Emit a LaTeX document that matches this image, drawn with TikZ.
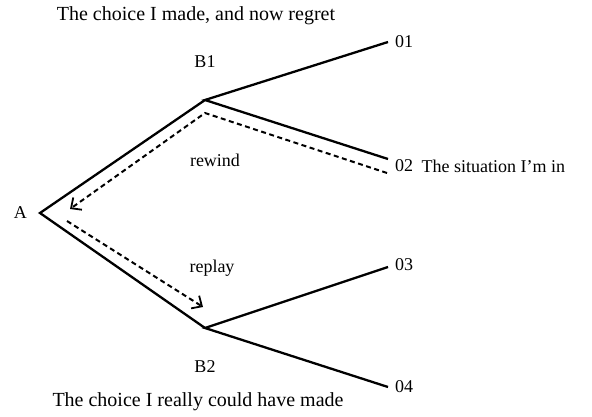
\documentclass[tikz,border=0pt]{standalone}
\usepackage{fontspec}
\setmainfont{Liberation Serif}
\usetikzlibrary{arrows.meta,positioning}

\begin{document}
\begin{tikzpicture}[x=1pt, y=-1pt, every node/.style={font=\fontsize{18}{20}\selectfont, inner sep=1pt},
  caption/.style={font=\fontsize{20}{22}\selectfont},
  branch/.style={line width=2.3pt, line join=miter},
  trace/.style={line width=2pt, dash pattern=on 5pt off 3.5pt, -{Straight Barb[length=8pt, width=15pt, line width=1.8pt]}}]
  \useasboundingbox (0,0) rectangle (592,417);
  % branch points
  \coordinate (a) at (40,213);
  \coordinate (b1) at (205,100);
  \coordinate (b2) at (205,328);
  \coordinate (o1) at (388,42);
  \coordinate (o2) at (388,159);
  \coordinate (o3) at (388,267);
  \coordinate (o4) at (388,387);
  % labels
  \node[left=12pt of a] (A) {A};
  \node (B1) at (205,62) {B1};
  \node (B2) at (205,367) {B2};
  \node[right=6pt of o1] (O1) {01};
  \node[right=6pt of o2, yshift=-7pt] (O2) {02};
  \node[right=6pt of O2] (sit) {The situation I'm in};
  \node[right=6pt of o3, yshift=2pt] (O3) {03};
  \node[right=6pt of o4] (O4) {04};
  \node[caption] (top) at (196,16) {The choice I made, and now regret};
  \node[caption] (bot) at (198,402) {The choice I really could have made};
  \node (rw) at (215,160) {rewind};
  \node (rp) at (212,268) {replay};
  % tree
  \draw[branch] (o1) -- (b1) -- (o2);
  \draw[branch] (b1) -- (a) -- (b2);
  \draw[branch] (o3) -- (b2) -- (o4);
  % dashed paths
  \coordinate (rw1) at (387,173);
  \coordinate (rw2) at (205,113);
  \coordinate (rw3) at (70,209);
  \draw[trace] (rw1) -- (rw2) -- (rw3);
  \coordinate (rp1) at (67,221);
  \coordinate (rp2) at (203,307);
  \draw[trace] (rp1) -- (rp2);
\end{tikzpicture}
\end{document}
